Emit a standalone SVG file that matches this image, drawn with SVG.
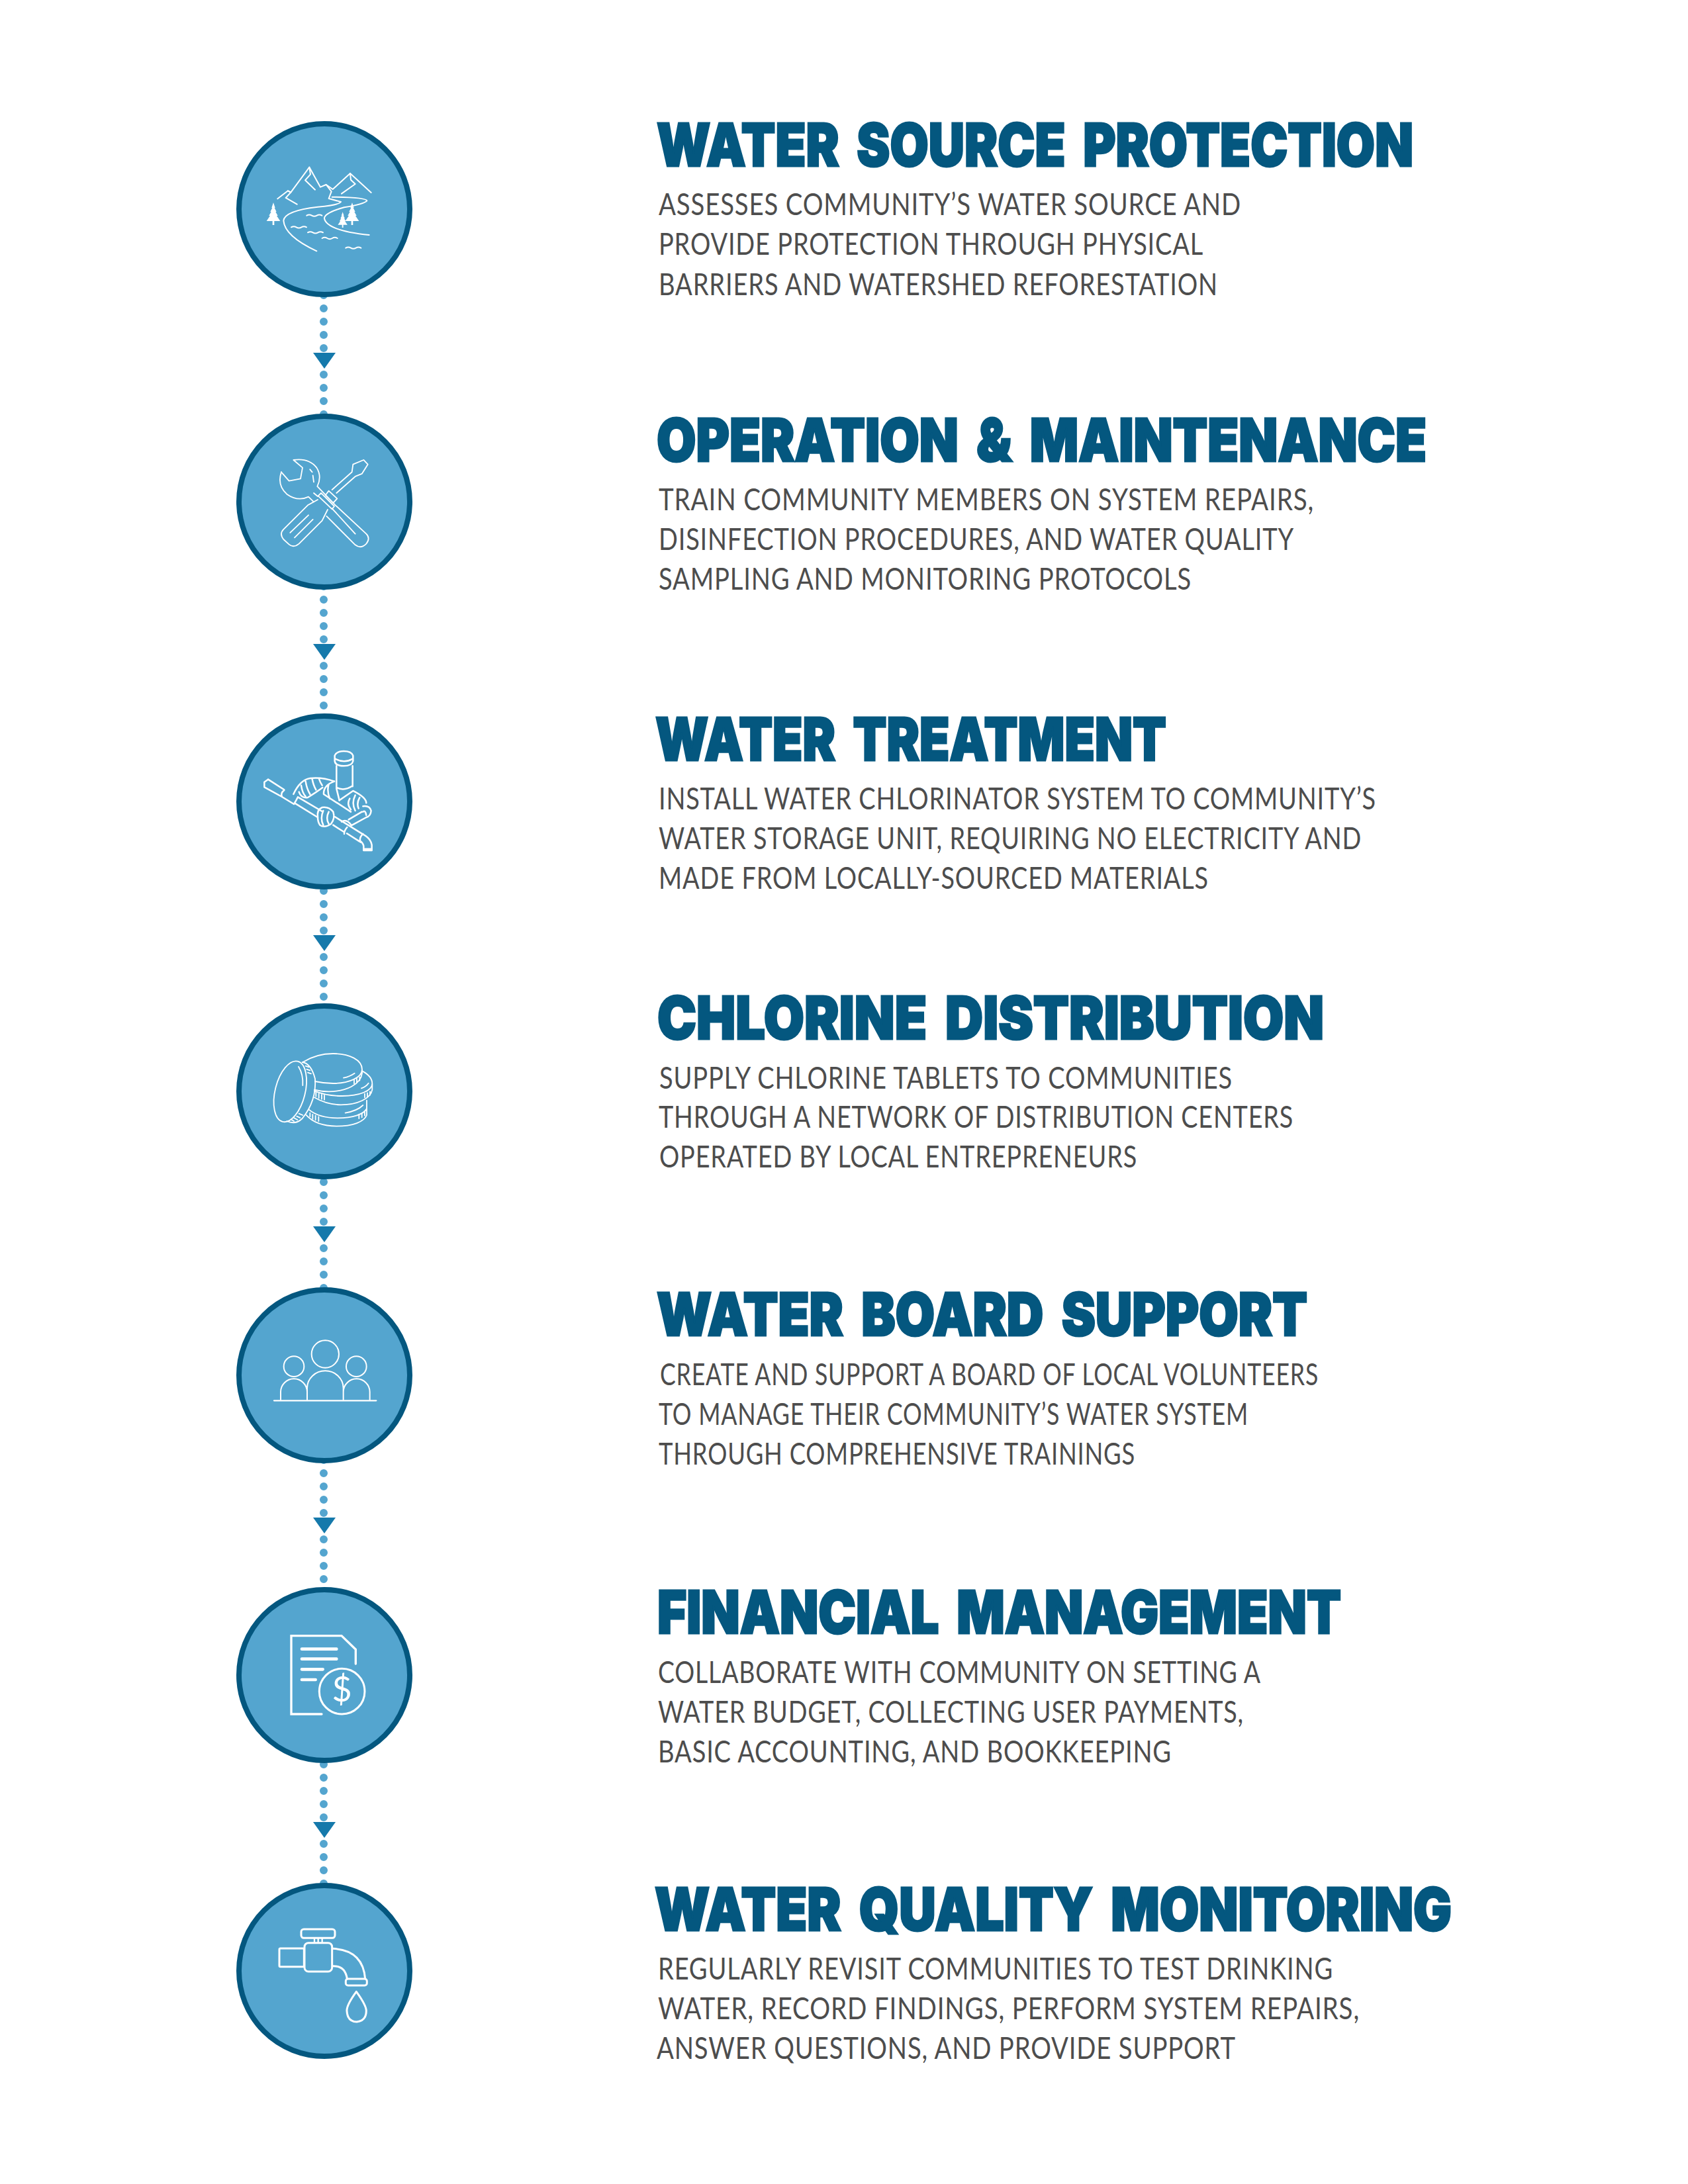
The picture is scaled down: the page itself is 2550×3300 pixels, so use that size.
<svg xmlns="http://www.w3.org/2000/svg" width="2550" height="3300" viewBox="0 0 2550 3300">
<style>
.bg{fill:#fff}
.disc{fill:#54A5CF;stroke:#04577F;stroke-width:8}
.dots{fill:none;stroke:#54A5CF;stroke-width:12;stroke-linecap:round;stroke-dasharray:0 20}
.arrow{fill:#1579AB}
.ic{fill:none;stroke:#fff;stroke-linecap:round;stroke-linejoin:round}
.w{fill:#fff;stroke:none}
.t{font-family:"Inter","Liberation Sans",sans-serif;font-weight:900;font-size:90px;fill:#04577F;stroke:#04577F;stroke-width:3px;word-spacing:14px}
.b{font-family:"Lato","Liberation Sans",sans-serif;font-weight:400;font-size:47px;fill:#4D4D4D;letter-spacing:1px}
</style>
<defs>
<path id="wave" d="M0 0q11.500-7 23 0t23 0t23 0"/>
<polygon id="tri" points="-17,-13 17,-13 0,11"/>
<path id="tree" d="M0-86L8-62L5-62L14-44L10-44L20-26L15-26L31-2L4-2L4 16L-4 16L-4-2L-31-2L-15-26L-20-26L-10-44L-14-44L-5-62L-8-62Z"/>
</defs>
<rect class="bg" width="2550" height="3300"/>
<g id="connectors">
<path class="dots" d="M489 426V526.100M489 566V646.100"/><use href="#tri" class="arrow" x="490" y="546"/>
<path class="dots" d="M489 866V966.100M489 1006V1086.100"/><use href="#tri" class="arrow" x="490" y="986"/>
<path class="dots" d="M489 1306V1406.100M489 1446V1526.100"/><use href="#tri" class="arrow" x="490" y="1426"/>
<path class="dots" d="M489 1746V1846.100M489 1886V1966.100"/><use href="#tri" class="arrow" x="490" y="1866"/>
<path class="dots" d="M489 2186V2286.100M489 2326V2406.100"/><use href="#tri" class="arrow" x="490" y="2306"/>
<path class="dots" d="M489 2646V2746.100M489 2786V2866.100"/><use href="#tri" class="arrow" x="490" y="2766"/>
</g>
<g id="node-1">
<circle class="disc" cx="490" cy="316" r="129"/>
<g transform="translate(320 160) scale(.3333)">
<g class="ic" stroke-width="6">
<path d="M298 421L345 385L358 392L442 278L492 368L518 357L548 378L627 306L722 393"/>
<path d="M442 278L447 310L423 337L468 380M627 306L630 335L650 354L588 398M345 385L358 392L335 417L386 446"/>
<path d="M518 357L542 388L530 420L585 435Q575 450 480 458Q330 475 325 520Q330 590 475 658"/>
<path d="M545 413Q700 415 703 430Q690 445 600 460Q510 485 510 510Q520 565 713 585"/>
<use href="#wave" x="430" y="497"/><use href="#wave" x="360" y="550"/><use href="#wave" x="435" y="574"/><use href="#wave" x="500" y="600"/><use href="#wave" x="607" y="644"/>
</g>
<use href="#tree" class="w" x="279" y="524"/>
<use href="#tree" class="w" x="636" y="524"/>
<use href="#tree" class="w" transform="translate(593 541) scale(.7)"/>
</g>
<text class="t" x="992" y="251" textLength="1143" lengthAdjust="spacingAndGlyphs">WATER SOURCE PROTECTION</text>
<text class="b" x="995" y="325" textLength="880" lengthAdjust="spacingAndGlyphs">ASSESSES COMMUNITY’S WATER SOURCE AND</text>
<text class="b" x="995" y="385" textLength="823" lengthAdjust="spacingAndGlyphs">PROVIDE PROTECTION THROUGH PHYSICAL</text>
<text class="b" x="995" y="446" textLength="845" lengthAdjust="spacingAndGlyphs">BARRIERS AND WATERSHED REFORESTATION</text>
</g>
<g id="node-2">
<circle class="disc" cx="490" cy="758" r="129"/>
<g transform="translate(320 430) scale(.3333)">
<g class="ic" stroke-width="5.500">
<path d="M315 850L350 890L402 880L411 830L370 795Q440 785 475 830Q500 870 478 915L560 1000L700 1130Q720 1150 700 1175Q675 1200 650 1180L520 1050"/>
<path d="M315 850Q295 910 340 950Q390 985 438 962L462 985M545 1015L650 1130M445 838L455 850M458 865L462 895"/>
<path d="M545 930L635 850L640 815L688 795L707 815L680 858L650 870L565 945"/>
<path d="M530 935L568 970L550 990L515 955ZM495 945L555 1005L545 1018L482 958ZM462 945L480 960"/>
<path d="M480 975L435 1000L325 1110Q305 1130 325 1155L350 1178Q370 1195 395 1175L500 1070L525 1020"/>
<path d="M355 1125L438 1045M375 1147L458 1065"/>
</g></g>
<text class="t" x="992" y="697" textLength="1163" lengthAdjust="spacingAndGlyphs">OPERATION &amp; MAINTENANCE</text>
<text class="b" x="995" y="771" textLength="990" lengthAdjust="spacingAndGlyphs">TRAIN COMMUNITY MEMBERS ON SYSTEM REPAIRS,</text>
<text class="b" x="995" y="831" textLength="960" lengthAdjust="spacingAndGlyphs">DISINFECTION PROCEDURES, AND WATER QUALITY</text>
<text class="b" x="995" y="891" textLength="805" lengthAdjust="spacingAndGlyphs">SAMPLING AND MONITORING PROTOCOLS</text>
</g>
<g id="node-3">
<circle class="disc" cx="490" cy="1211" r="129"/>
<g transform="translate(340 1050) scale(.3333)">
<g class="ic" stroke-width="7.500">
<path d="M497 300V275Q505 255 538 255Q572 255 580 275V300Q575 322 538 322Q500 322 497 300ZM500 290Q540 312 578 290"/>
<path d="M505 322V425L518 478M578 322V415M505 420Q540 438 578 412"/>
<path d="M195 383L268 430M178 395L195 383M178 395V418L258 462M268 432Q250 445 258 462L312 495Q322 480 330 463M330 463L440 528M315 490L420 555"/>
<path d="M420 555Q415 520 440 510Q470 505 490 530Q500 560 480 585Q450 605 430 590Q420 575 420 555M445 525Q430 560 445 590M470 530Q455 560 470 585"/>
<path d="M497 552L625 632M490 590L540 622M552 628L610 665M553 600Q540 615 540 630"/>
<path d="M625 632Q660 650 665 680V705H628V685Q625 670 610 660M625 630Q605 650 615 668M630 698H662"/>
<path d="M310 450Q340 385 385 378Q440 372 495 392M335 440Q345 470 375 465Q415 440 442 420M345 410Q350 445 365 460M365 392Q370 425 385 450M395 382Q400 410 412 430M425 378Q430 395 440 410"/>
<path d="M495 392Q445 410 447 450L570 530M470 405Q460 435 475 470M518 478L580 435Q640 465 640 490M565 470Q550 495 570 520M590 455Q572 490 590 525M610 465Q595 490 605 515"/>
<path d="M625 505Q655 500 662 525Q660 550 640 555L572 592M625 530Q635 520 640 545M620 530L560 565M528 575Q550 560 572 590"/>
</g></g>
<text class="t" x="990" y="1149" textLength="772" lengthAdjust="spacingAndGlyphs">WATER TREATMENT</text>
<text class="b" x="995" y="1223" textLength="1084" lengthAdjust="spacingAndGlyphs">INSTALL WATER CHLORINATOR SYSTEM TO COMMUNITY’S</text>
<text class="b" x="995" y="1283" textLength="1062" lengthAdjust="spacingAndGlyphs">WATER STORAGE UNIT, REQUIRING NO ELECTRICITY AND</text>
<text class="b" x="995" y="1343" textLength="831" lengthAdjust="spacingAndGlyphs">MADE FROM LOCALLY-SOURCED MATERIALS</text>
</g>
<g id="node-4">
<circle class="disc" cx="490" cy="1649" r="129"/>
<g transform="translate(340 1490) scale(.3333)">
<g class="ic" stroke-width="5.500">
<ellipse cx="295" cy="478" rx="68" ry="141" transform="rotate(14 295 478)"/>
<path d="M350 345Q390 350 408 420Q415 520 350 600Q320 630 280 612M333 365Q355 400 352 450"/>
<path d="M352 345C395 318 440 306 490 306C565 306 621 335 621 378C621 415 560 441 490 441C460 441 435 438 408 432M621 378V395C615 445 550 478 470 478C445 478 425 475 405 470"/>
<path d="M622 385C650 400 667 420 667 442C667 475 610 498 530 498C480 498 440 490 405 475M667 442V470C660 510 600 538 525 538C480 538 440 525 405 505"/>
<path d="M642 518V555C630 580 580 598 510 598C455 598 410 585 380 560M642 555V585C630 615 580 635 505 635C440 635 395 615 368 585"/>
<path d="M537 416Q565 410 587 395M618 463Q640 455 650 440M545 575Q600 565 625 540"/>
<path d="M365 362L380 367M370 377L385 382M375 392L390 397"/>
<path d="M585 425V442M597 420V437M610 412V428M633 488V505M645 484V500M657 478V494M412 482V500M425 487V507M438 492V512M450 495V515M607 582V600M620 578V595M633 570V587M385 575V592M397 582V602M410 587V607M424 592V612"/>
<path d="M300 605L312 612M312 597L328 606M325 590L340 597M335 578L352 585"/>
</g></g>
<text class="t" x="993" y="1570" textLength="1007" lengthAdjust="spacingAndGlyphs">CHLORINE DISTRIBUTION</text>
<text class="b" x="996" y="1645" textLength="866" lengthAdjust="spacingAndGlyphs">SUPPLY CHLORINE TABLETS TO COMMUNITIES</text>
<text class="b" x="995" y="1704" textLength="959" lengthAdjust="spacingAndGlyphs">THROUGH A NETWORK OF DISTRIBUTION CENTERS</text>
<text class="b" x="996" y="1764" textLength="722" lengthAdjust="spacingAndGlyphs">OPERATED BY LOCAL ENTREPRENEURS</text>
</g>
<g id="node-5">
<circle class="disc" cx="490" cy="2078" r="129"/>
<g transform="translate(340 1910) scale(.3333)">
<g class="ic" stroke-width="6">
<circle cx="454" cy="408" r="62"/><circle cx="312" cy="464" r="46"/><circle cx="595" cy="464" r="46"/>
<path d="M252 615V580A60 60 0 0 1 372 580V615M372 615V562A82 78 0 0 1 536 562V615M536 615V580A60 60 0 0 1 656 580V615"/>
<path d="M222 619H685" stroke-width="7"/>
</g></g>
<text class="t" x="992" y="2018" textLength="983" lengthAdjust="spacingAndGlyphs">WATER BOARD SUPPORT</text>
<text class="b" x="997" y="2093" textLength="995" lengthAdjust="spacingAndGlyphs">CREATE AND SUPPORT A BOARD OF LOCAL VOLUNTEERS</text>
<text class="b" x="995" y="2153" textLength="891" lengthAdjust="spacingAndGlyphs">TO MANAGE THEIR COMMUNITY’S WATER SYSTEM</text>
<text class="b" x="995" y="2213" textLength="720" lengthAdjust="spacingAndGlyphs">THROUGH COMPREHENSIVE TRAININGS</text>
</g>
<g id="node-6">
<circle class="disc" cx="490" cy="2531" r="129"/>
<g transform="translate(340 2360) scale(.3333)">
<g class="ic" stroke-width="10">
<path d="M438 690H300V335H528L592 397V462" stroke-linejoin="miter"/>
<path d="M348 395H505M348 440H505M348 487H443M348 534H410" stroke-width="14"/>
<circle cx="530" cy="587" r="103" stroke-width="9"/>
</g></g>
<text x="516.500" y="2571" text-anchor="middle" font-family="Lato, 'Liberation Sans', sans-serif" font-size="52" fill="#fff">$</text>
<text class="t" x="993" y="2468" textLength="1033" lengthAdjust="spacingAndGlyphs">FINANCIAL MANAGEMENT</text>
<text class="b" x="994" y="2543" textLength="911" lengthAdjust="spacingAndGlyphs">COLLABORATE WITH COMMUNITY ON SETTING A</text>
<text class="b" x="994" y="2603" textLength="885" lengthAdjust="spacingAndGlyphs">WATER BUDGET, COLLECTING USER PAYMENTS,</text>
<text class="b" x="994" y="2663" textLength="776" lengthAdjust="spacingAndGlyphs">BASIC ACCOUNTING, AND BOOKKEEPING</text>
</g>
<g id="node-7">
<circle class="disc" cx="490" cy="2978" r="129"/>
<g transform="translate(340 2800) scale(.3333)">
<g class="ic" stroke-width="9">
<rect x="345" y="345" width="153" height="40" rx="12"/>
<path d="M405 385V405M440 385V405M422 385V405" stroke-width="7"/>
<rect x="360" y="407" width="125" height="130" rx="18"/>
<rect x="246" y="432" width="112" height="83" rx="5"/>
<path d="M488 433Q625 440 635 570M488 512Q545 510 553 570"/>
<rect x="547" y="570" width="96" height="30" rx="10"/>
<path d="M595 628Q550 690 552 715Q555 765 597 765Q640 760 640 715Q640 690 595 628Z"/>
</g></g>
<text class="t" x="989" y="2917" textLength="1204" lengthAdjust="spacingAndGlyphs">WATER QUALITY MONITORING</text>
<text class="b" x="994" y="2991" textLength="1020" lengthAdjust="spacingAndGlyphs">REGULARLY REVISIT COMMUNITIES TO TEST DRINKING</text>
<text class="b" x="994" y="3051" textLength="1060" lengthAdjust="spacingAndGlyphs">WATER, RECORD FINDINGS, PERFORM SYSTEM REPAIRS,</text>
<text class="b" x="992" y="3111" textLength="875" lengthAdjust="spacingAndGlyphs">ANSWER QUESTIONS, AND PROVIDE SUPPORT</text>
</g>
</svg>
